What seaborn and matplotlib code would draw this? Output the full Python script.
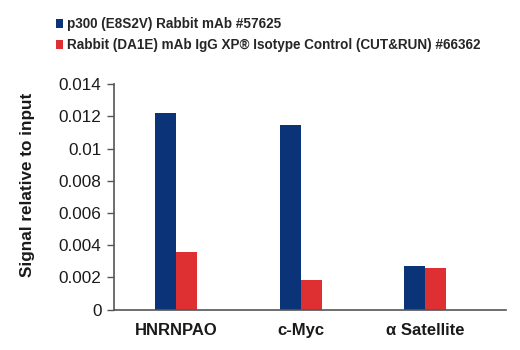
import matplotlib
matplotlib.use("Agg")
import matplotlib.pyplot as plt
import seaborn as sns
import pandas as pd
from matplotlib.patches import Patch

targets = ["HNRNPAO", "c-Myc", "\u03b1 Satellite"]
p300_values = [0.0122, 0.01148, 0.00269]
igg_values = [0.00356, 0.00184, 0.00257]
series_names = ["p300 (E8S2V) Rabbit mAb #57625",
                "Rabbit (DA1E) mAb IgG XP\u00ae Isotype Control (CUT&RUN) #66362"]
y_ticks = [0, 0.002, 0.004, 0.006, 0.008, 0.01, 0.012, 0.014]
y_tick_labels = ["0", "0.002", "0.004", "0.006", "0.008", "0.01", "0.012", "0.014"]

df = pd.DataFrame({
    "target": targets * 2,
    "signal": p300_values + igg_values,
    "antibody": [series_names[0]] * 3 + [series_names[1]] * 3,
})

sns.set_theme(style="white")
plt.rcParams["font.family"] = ["Liberation Sans", "DejaVu Sans"]

colors = ["#0b3378", "#de2f33"]
ink = "#1a1a1a"

fig = plt.figure(figsize=(5.2, 3.5), dpi=100)
ax = fig.add_axes([114 / 520, 1 - 309.5 / 350, 392 / 520, (309.5 - 84.3) / 350])

sns.barplot(data=df, x="target", y="signal", hue="antibody", order=targets,
            hue_order=series_names, palette=colors, width=0.34, saturation=1,
            edgecolor="none", linewidth=0, ax=ax, legend=False)

ax.set_ylim(0, 0.014)
ax.set_xlim(-0.5, 2.65)
ax.set_yticks(y_ticks)
ax.set_yticklabels(y_tick_labels, fontsize=12.3, color=ink)
ax.set_xticks(range(len(targets)))
ax.set_xticklabels(targets, fontsize=12, fontweight="bold", color=ink)
ax.set_xlabel("")
ax.set_ylabel("Signal relative to input", fontsize=12.3, fontweight="bold", color=ink)
ax.yaxis.set_label_coords((35 - 114) / 392, (309.5 - 185) / 225.2)

for side in ["top", "right"]:
    ax.spines[side].set_visible(False)
for side in ["left", "bottom"]:
    ax.spines[side].set_color("#555555")
    ax.spines[side].set_linewidth(1.2)

ax.tick_params(axis="y", which="major", left=True, length=5, width=1,
               color="#555555", pad=4)
ax.tick_params(axis="x", which="major", bottom=False, pad=4)

handles = [Patch(facecolor=c, edgecolor="none") for c in colors]
fig.legend(handles, series_names, loc="upper left",
           bbox_to_anchor=(56 / 520, 1 - 17 / 350),
           frameon=False, handlelength=0.52, handleheight=0.6,
           handletextpad=0.3, labelspacing=0.55, borderpad=0, borderaxespad=0,
           prop={"weight": "bold", "size": 9.75})

fig.savefig("out.png", dpi=100)
